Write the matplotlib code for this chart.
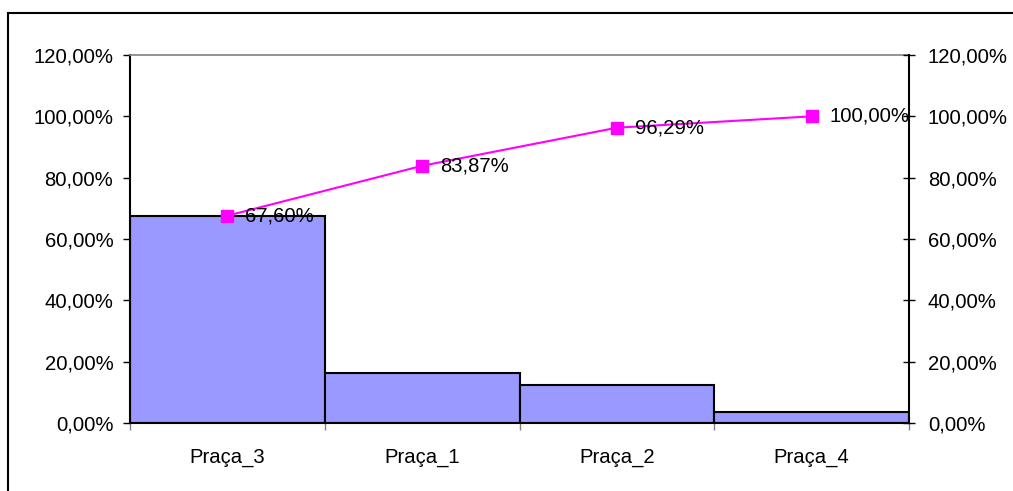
import matplotlib

matplotlib.use("Agg")

import matplotlib.pyplot as plt
import numpy as np
from matplotlib.patches import Rectangle
from matplotlib.ticker import FuncFormatter

plt.rcParams["font.family"] = ["Liberation Sans", "DejaVu Sans"]

# Pareto data: share per square and cumulative share (percent)
pracas = ["Praça_3", "Praça_1", "Praça_2", "Praça_4"]
share = [67.60, 16.27, 12.42, 3.71]
cumulative = [67.60, 83.87, 96.29, 100.00]
y_ticks = [0, 20, 40, 60, 80, 100, 120]

FS = 14.6


def pct(value, _pos=None):
    return f"{value:.2f}%".replace(".", ",")


fig = plt.figure(figsize=(10.13, 4.91), dpi=100)
ax = fig.add_axes([130 / 1013, 68 / 491, 779 / 1013, 368 / 491])

x = np.arange(len(pracas))
ax.bar(x, share, width=1.0, color="#9999FF", edgecolor="black", linewidth=1.5, zorder=2)
ax.set_xlim(-0.5, len(pracas) - 0.5)
ax.set_ylim(0, 120)

# category boundaries carry the tick marks, centres carry the names
ax.set_xticks(np.arange(len(pracas) + 1) - 0.5)
ax.set_xticklabels([])
ax.set_xticks(x, minor=True)
ax.set_xticklabels(pracas, minor=True, fontsize=FS)
ax.tick_params(axis="x", which="major", direction="out", length=5, color="#808080", width=1)
ax.tick_params(axis="x", which="minor", length=0, pad=18)

ax.set_yticks(y_ticks)
ax.yaxis.set_major_formatter(FuncFormatter(pct))
ax.tick_params(axis="y", direction="out", length=5, width=1, labelsize=FS, pad=7)

for side in ["left", "bottom"]:
    ax.spines[side].set_linewidth(1.5)
ax.spines["top"].set_color("#808080")
ax.spines["top"].set_linewidth(1.2)
ax.spines["right"].set_visible(False)

ax2 = ax.twinx()
ax2.set_ylim(0, 120)
ax2.set_yticks(y_ticks)
ax2.yaxis.set_major_formatter(FuncFormatter(pct))
ax2.tick_params(axis="y", direction="inout", length=9, width=1, labelsize=FS, pad=9)
ax2.spines["right"].set_linewidth(1.5)
for side in ["left", "top", "bottom"]:
    ax2.spines[side].set_visible(False)

ax2.plot(x, cumulative, color="#FF00FF", linewidth=1.5, marker="s", markersize=8,
         markeredgecolor="#FF00FF", zorder=3)
for xi, yi in zip(x, cumulative):
    ax2.annotate(pct(yi), (xi, yi), xytext=(13, 0), textcoords="offset points",
                 ha="left", va="center", fontsize=FS, zorder=4)

# outer chart frame
fig.patches.append(Rectangle((8 / 1013, -0.1), 1.2, 0.1 + 1 - 13 / 491,
                             transform=fig.transFigure, fill=False,
                             edgecolor="black", linewidth=1.5))

fig.savefig("out.png", dpi=100)
plt.close(fig)
